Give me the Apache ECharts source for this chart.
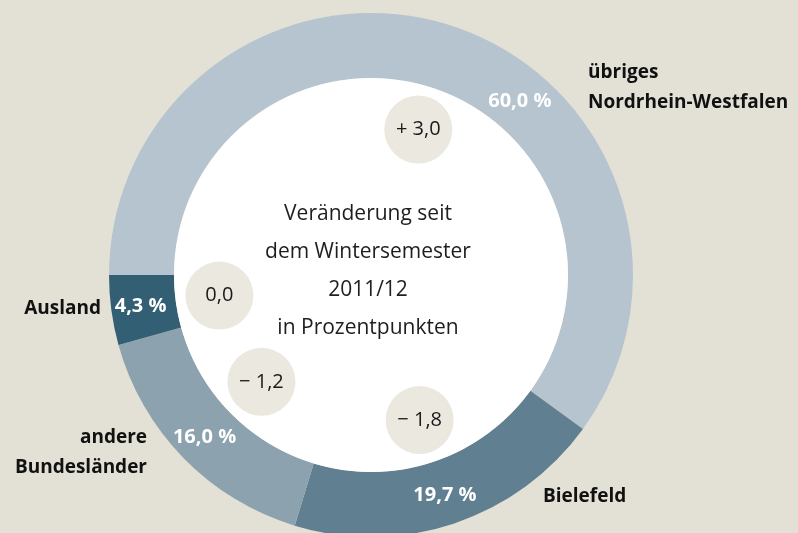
<!DOCTYPE html>
<html>
<head>
<meta charset="utf-8">
<script src="https://cdn.jsdelivr.net/npm/echarts@6/dist/echarts.min.js"></script>
<style>
  html, body { margin: 0; padding: 0; background: #e3e0d6; }
  #chart { width: 798px; height: 533px; }
</style>
</head>
<body>
<div id="chart"></div>
<script>
// Herkunft der Studierenden (Anteile in %) und Veränderung in Prozentpunkten
const categories = ['übriges Nordrhein-Westfalen', 'Bielefeld', 'andere Bundesländer', 'Ausland'];
const shares = [60.0, 19.7, 16.0, 4.3];
const changes = [3.0, -1.8, -1.2, 0.0];
const sliceColors = ['#b5c4cf', '#607f90', '#8ca2ae', '#325f73'];
const centerLines = ['Veränderung seit', 'dem Wintersemester', '2011/12', 'in Prozentpunkten'];

const FONT = '"Open Sans", Lato, sans-serif';
const CENTER = [371, 275];

const fmt = v => v.toFixed(1).replace('.', ',');
const fmtChange = v => v > 0 ? '+ ' + fmt(v) : (v < 0 ? '\u2212 ' + fmt(-v) : fmt(v));

const chart = echarts.init(document.getElementById('chart'), null, { renderer: 'canvas' });

const ringData = categories.map((name, i) => ({
  name,
  value: shares[i],
  itemStyle: { color: sliceColors[i] },
  // the large slice carries its percentage further round, next to its name
  label: i === 0 ? { offset: [77, 47] } : undefined
}));

const bubbleData = categories.map((name, i) => ({
  name,
  value: shares[i],
  change: changes[i]
}));

// bold category names outside the ring
const nameLabels = [
  { text: 'übriges\nNordrhein-Westfalen', x: 588, y: 88, align: 'left' },
  { text: categories[1], x: 543, y: 497, align: 'left' },
  { text: 'andere\nBundesländer', x: 147, y: 453, align: 'right' },
  { text: categories[3], x: 101, y: 309, align: 'right' }
];

chart.setOption({
  backgroundColor: '#e3e0d6',
  animation: false,
  series: [
    {
      type: 'pie',
      center: CENTER,
      radius: [197, 262],
      startAngle: 180,
      clockwise: true,
      silent: true,
      label: {
        show: true,
        position: 'inside',
        formatter: p => fmt(p.value) + ' %',
        color: '#ffffff',
        fontFamily: FONT,
        fontWeight: 'bold',
        fontSize: 20
      },
      labelLine: { show: false },
      data: ringData
    },
    {
      type: 'pie',
      center: CENTER,
      radius: [0, 197],
      silent: true,
      label: { show: false },
      itemStyle: { color: '#ffffff' },
      data: [{ value: 1 }]
    },
    {
      type: 'pie',
      center: CENTER,
      radius: [140, 160],
      startAngle: 180,
      clockwise: true,
      silent: true,
      itemStyle: { color: 'rgba(0,0,0,0)' },
      label: {
        show: true,
        position: 'inside',
        formatter: p => fmtChange(p.data.change),
        color: '#1a1a1a',
        fontFamily: FONT,
        fontSize: 20,
        width: 68,
        height: 68,
        lineHeight: 68,
        align: 'center',
        verticalAlign: 'middle',
        borderRadius: 34,
        backgroundColor: '#ebe8e0'
      },
      labelLine: { show: false },
      data: bubbleData
    }
  ],
  graphic: [
    {
      type: 'text',
      z: 100,
      x: 368,
      y: 271,
      style: {
        text: centerLines.join('\n'),
        textAlign: 'center',
        textVerticalAlign: 'middle',
        fontFamily: FONT,
        fontSize: 21,
        lineHeight: 38,
        fill: '#1e1e1e'
      }
    },
    ...nameLabels.map(l => ({
      type: 'text',
      z: 100,
      x: l.x,
      y: l.y,
      style: {
        text: l.text,
        textAlign: l.align,
        textVerticalAlign: 'middle',
        fontFamily: FONT,
        fontWeight: 'bold',
        fontSize: 19,
        lineHeight: 30,
        fill: '#111111'
      }
    }))
  ]
});
</script>
</body>
</html>
